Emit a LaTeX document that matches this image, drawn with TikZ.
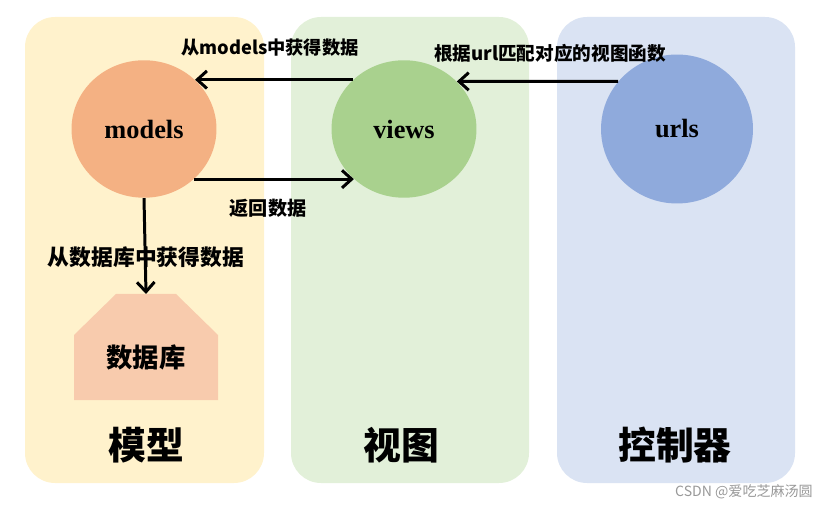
\documentclass[tikz,border=0pt]{standalone}
\usepackage{fontspec}
\setmainfont{Liberation Serif}
\newfontfamily\cjk{Noto Sans CJK SC}
\usetikzlibrary{arrows.meta, shapes.geometric}

\definecolor{modelpanel}{HTML}{FFF2CC}
\definecolor{viewpanel}{HTML}{E2F0D9}
\definecolor{urlpanel}{HTML}{DAE3F3}
\definecolor{modelfill}{HTML}{F4B183}
\definecolor{viewfill}{HTML}{A9D18E}
\definecolor{urlfill}{HTML}{8FAADC}
\definecolor{dbfill}{HTML}{F8CBAD}

\begin{document}
\begin{tikzpicture}[
    x=0.02cm, y=-0.02cm,
    panel/.style={rounded corners=0.6cm},
    ball/.style={
        ellipse,
        inner sep=0pt,
        minimum width=2.9cm,
        minimum height=2.75cm,
        font=\bfseries\fontsize{15}{18}\selectfont
    },
    lbl/.style={font=\cjk\bfseries\fontsize{#1}{#1}\selectfont, inner sep=0pt},
    arrow/.style={-{Straight Barb[length=5.5pt, width=10pt]}, line width=1.7pt}
]
\useasboundingbox (0,0) rectangle (830,509);

% columns
\fill[modelpanel, panel] (25,17) rectangle (264,483);
\fill[viewpanel, panel] (291,17) rectangle (529,483);
\fill[urlpanel, panel] (557,17) rectangle (795,483);

% circles
\node[ball, fill=modelfill] (models) at (144,129) {models};
\node[ball, fill=viewfill] (views) at (404,129) {views};
\node[ball, fill=urlfill, minimum width=3.04cm, minimum height=2.98cm] (urls) at (677,129) {urls};

% database
\fill[dbfill] (74,400) -- (74,335) -- (116,294) -- (176,294) -- (218,335) -- (218,400) -- cycle;
\node[lbl=15] (db) at (146,357) {数据库};
\coordinate (dbtop) at (146,294);

% labels
\node[lbl=10.4] (getmodels) at (270,48) {从models中获得数据};
\node[lbl=10.6] (match) at (550,53) {根据url匹配对应的视图函数};
\node[lbl=10.9] (back) at (268,208) {返回数据};
\node[lbl=12.4] (getdb) at (146,257) {从数据库中获得数据};

\node[lbl=21.5] (mtitle) at (146,445) {模型};
\node[lbl=21.5] (vtitle) at (401,445) {视图};
\node[lbl=21.5] (ctitle) at (675,445) {控制器};

\node[font=\cjk\fontsize{8}{8}\selectfont, text=black!40, inner sep=0pt] (mark) at (744,492) {CSDN @爱吃芝麻汤圆};

% arrows
\draw[arrow] (views.136) -- (models.44);
\draw[arrow] (urls.141) -- (views.42);
\draw[arrow] (models.-45) -- (views.225);
\draw[arrow] (models.south) -- (dbtop);

\end{tikzpicture}
\end{document}
